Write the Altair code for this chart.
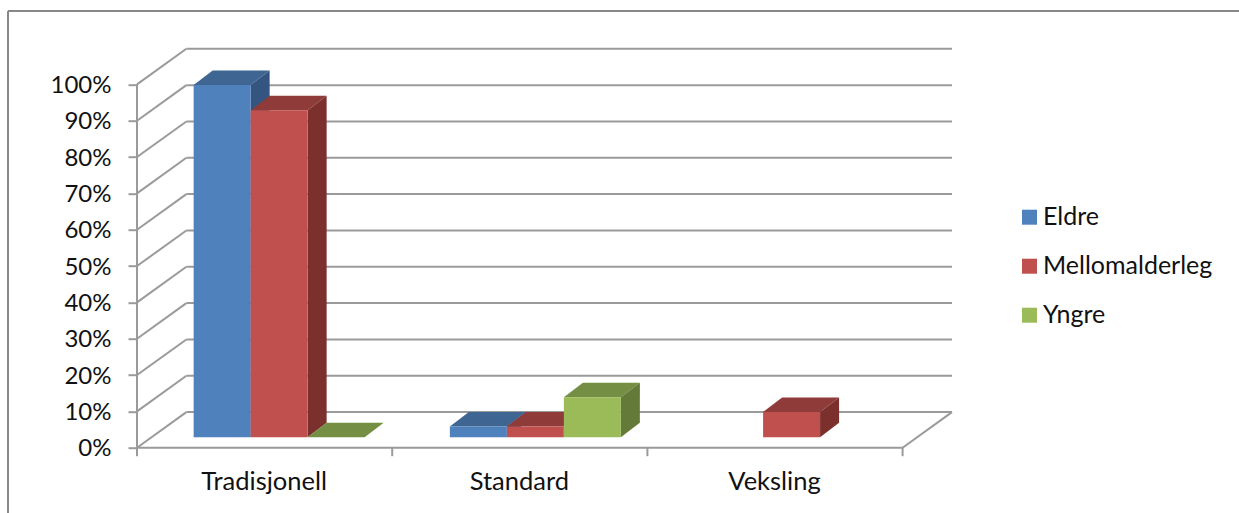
import altair as alt
import pandas as pd

categories = ["Tradisjonell", "Standard", "Veksling"]
series = ["Eldre", "Mellomalderleg", "Yngre"]
eldre = [97, 3, None]
mellomalderleg = [90, 3, 7]
yngre = [0, 11, None]
values = [eldre, mellomalderleg, yngre]
y_ticks = list(range(0, 101, 10))
front_colors = ["#4F81BD", "#C0504D", "#9BBB59"]
top_colors = ["#3F6692", "#8E3B39", "#748E43"]
side_colors = ["#335580", "#7B302E", "#647A38"]

FONT = "Lato"
GRID = "#9A9A9A"
TEXT = "#111111"

# Oblique projection, in data units: one category is 1.0 on x, one percent is 1.0 on y.
WALL_DX, WALL_DY = 0.1935, 9.8
BAR_DX, BAR_DY = 0.0745, 3.99
FLOOR_INSET = 2.86
BAR_W = 0.2233
BAR_START = 0.222
GROUP_STEP = 1.004

x_scale = alt.Scale(domain=[0, 815 / 255.2], range=[0, 815], nice=False, zero=False)
y_scale = alt.Scale(domain=[0, 400 / 3.633], range=[400, 0], nice=False, zero=False)

# Axes carry the labels and y ticks only; their lines are rules drawn below
x_axis = alt.Axis(
    values=[0.5, 1.5, 2.5],
    labelExpr=f"{categories}[floor(datum.value)]",
    domain=False,
    ticks=False,
    grid=False,
    labelFont=FONT,
    labelFontSize=25.5,
    labelColor=TEXT,
    labelOffset=-1,
    labelPadding=22,
)
y_axis = alt.Axis(
    values=y_ticks,
    labelExpr="datum.value + '%'",
    domain=False,
    grid=False,
    tickSize=9,
    tickWidth=2,
    tickColor=GRID,
    labelFont=FONT,
    labelFontSize=24,
    labelColor=TEXT,
    labelOffset=1,
    labelPadding=17,
)


def X(field):
    return alt.X(field, type="quantitative", scale=x_scale, axis=x_axis, title=None)


def Y(field):
    return alt.Y(field, type="quantitative", scale=y_scale, axis=y_axis, title=None)


grid_df = pd.DataFrame({"v": y_ticks})
grid_df["y"] = grid_df.v + WALL_DY
grid_df["x"] = WALL_DX
grid_df["x2"] = 3 + WALL_DX
back_lines = alt.Chart(grid_df).mark_rule(color=GRID, strokeWidth=2).encode(
    x=X("x"), x2="x2", y=Y("y")
)

diag_rows = []
for v in y_ticks:
    diag_rows += [{"k": f"w{v}", "x": 0, "y": v}, {"k": f"w{v}", "x": WALL_DX, "y": v + WALL_DY}]
diag_rows += [{"k": "floor", "x": 3, "y": 0}, {"k": "floor", "x": 3 + WALL_DX, "y": WALL_DY}]
diagonals = alt.Chart(pd.DataFrame(diag_rows)).mark_line(color=GRID, strokeWidth=2).encode(
    x=X("x"), y=Y("y"), detail="k:N"
)

axis_line_y = alt.Chart(pd.DataFrame({"x": [0], "y": [0], "y2": [100]})).mark_rule(
    color=GRID, strokeWidth=2
).encode(x=X("x"), y=Y("y"), y2="y2")
axis_line_x = alt.Chart(pd.DataFrame({"x": [0], "x2": [3], "y": [0]})).mark_rule(
    color=GRID, strokeWidth=2
).encode(x=X("x"), x2="x2", y=Y("y"))
x_ticks = alt.Chart(pd.DataFrame({"x": [0, 1, 2, 3]})).mark_rule(
    color=GRID, strokeWidth=2
).encode(x=X("x"), y=alt.value(400), y2=alt.value(408.5))

# Outer frame of the chart, running off the canvas on the right and at the bottom
frame_top = alt.Chart(pd.DataFrame({"a": [0]})).mark_rule(color="#888888", strokeWidth=2).encode(
    x=alt.value(-129), x2=alt.value(1102), y=alt.value(-36.7)
)
frame_left = alt.Chart(pd.DataFrame({"a": [0]})).mark_rule(color="#888888", strokeWidth=2).encode(
    x=alt.value(-129), y=alt.value(-36.7), y2=alt.value(466)
)

layers = [back_lines, diagonals, axis_line_x, axis_line_y, x_ticks, frame_top, frame_left]

# Each bar is a front rectangle plus a top and a side parallelogram
for si, name in enumerate(series):
    front, top, side = [], [], []
    for ci, cat in enumerate(categories):
        v = values[si][ci]
        if v is None:
            continue
        x0 = ci * GROUP_STEP + BAR_START + si * BAR_W
        x1 = x0 + BAR_W
        y0 = FLOOR_INSET
        y1 = y0 + v
        front.append({"series": name, "x": x0, "x2": x1, "y": y0, "y2": y1})
        top += [
            {"k": cat, "x": x0, "x2": x1, "y": y1},
            {"k": cat, "x": x0 + BAR_DX, "x2": x1 + BAR_DX, "y": y1 + BAR_DY},
        ]
        side += [
            {"k": cat, "x": x1, "y": y1, "y2": y0},
            {"k": cat, "x": x1 + BAR_DX, "y": y1 + BAR_DY, "y2": y0 + BAR_DY},
        ]
    layers.append(
        alt.Chart(pd.DataFrame(top)).mark_area(orient="horizontal", color=top_colors[si]).encode(
            x=X("x"), x2="x2", y=Y("y"), detail="k:N"
        )
    )
    layers.append(
        alt.Chart(pd.DataFrame(side)).mark_area(orient="vertical", color=side_colors[si]).encode(
            x=X("x"), y=Y("y"), y2="y2", detail="k:N"
        )
    )
    layers.append(
        alt.Chart(pd.DataFrame(front)).mark_rect().encode(
            x=X("x"),
            x2="x2",
            y=Y("y"),
            y2="y2",
            color=alt.Color(
                "series:N",
                scale=alt.Scale(domain=series, range=front_colors),
                legend=alt.Legend(
                    title=None,
                    orient="none",
                    legendX=880,
                    legendY=157,
                    symbolType="square",
                    symbolSize=225,
                    symbolStrokeWidth=0,
                    labelFont=FONT,
                    labelFontSize=25,
                    labelColor=TEXT,
                    labelLimit=260,
                    labelOffset=1,
                    rowPadding=23,
                    padding=0,
                ),
            ),
        )
    )

chart = (
    alt.layer(*layers)
    .properties(
        width=815,
        height=400,
        background="white",
        padding={"left": 137, "top": 47.7, "right": 287, "bottom": 65.3},
        autosize=alt.AutoSizeParams(type="none"),
    )
    .configure_view(stroke=None)
)

chart.save("out.html", embed_options={"renderer": "svg", "actions": False})
